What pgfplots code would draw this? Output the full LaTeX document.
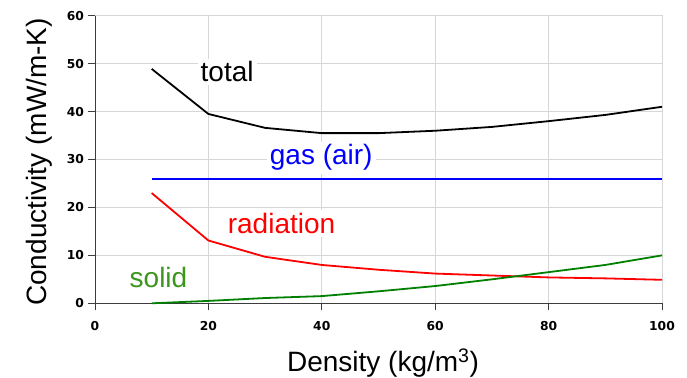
\documentclass[border=0pt]{standalone}
\usepackage{pgfplots}
\pgfplotsset{compat=1.18}
\usepackage{fontspec}
\setmainfont{Liberation Sans}
\newfontfamily\tickfont{DejaVu Sans}
\definecolor{gridgray}{RGB}{215,215,215}
\definecolor{axgray}{RGB}{60,60,60}
\definecolor{solidline}{RGB}{0,128,0}
\definecolor{solidtext}{RGB}{60,150,30}
\definecolor{myblue}{RGB}{0,0,255}
\definecolor{myred}{RGB}{255,0,0}
\begin{document}
\begin{tikzpicture}
\useasboundingbox (-95bp,-74.7bp) rectangle (592bp,303.3bp);
\begin{axis}[
  at={(0,0)}, anchor=south west,
  scale only axis,
  width=567bp, height=287.6bp,
  xmin=0, xmax=100, ymin=0, ymax=60,
  xtick={0,20,...,100}, ytick={0,10,...,60},
  axis lines=left,
  axis line style={-, axgray, line width=0.8bp},
  tick style={axgray, line width=0.8bp},
  tick align=outside,
  major tick length=7bp,
  grid=major,
  major grid style={gridgray, line width=0.9bp},
  ticklabel style={font=\tickfont\bfseries\fontsize{12.3bp}{14bp}\selectfont, text=black},
  xticklabel style={yshift=-7.5bp},
  yticklabel style={xshift=-0.5bp},
  /pgf/number format/assume math mode=true,
  clip=false,
]
\draw[gridgray, line width=0.9bp] (axis cs:0,60) -- (axis cs:100,60) -- (axis cs:100,0);
\addplot[black, line width=1.8bp] coordinates {
 (10,48.9) (20,39.5) (30,36.6) (40,35.5) (50,35.5) (60,36) (70,36.8) (80,38) (90,39.3) (100,41)};
\addplot[myblue, line width=1.9bp] coordinates {(10,26) (100,26)};
\addplot[myred, line width=1.8bp] coordinates {
 (10,23) (20,13.1) (30,9.7) (40,8) (50,7) (60,6.2) (70,5.8) (80,5.4) (90,5.2) (100,4.9)};
\addplot[solidline, line width=1.8bp] coordinates {
 (10,0) (20,0.5) (30,1.1) (40,1.5) (50,2.5) (60,3.6) (70,5) (80,6.5) (90,8) (100,10)};
\node[fill=white, inner sep=3bp, font=\fontsize{28bp}{30bp}\selectfont] at (axis cs:23.3,48.3) {total};
\node[fill=white, inner sep=3bp, text=myblue, font=\fontsize{28bp}{30bp}\selectfont] at (axis cs:39.9,30.4) {gas (air)};
\node[fill=white, inner sep=3bp, text=myred, font=\fontsize{28bp}{30bp}\selectfont] at (axis cs:32.9,16.6) {radiation};
\node[fill=white, inner sep=3bp, text=solidtext, font=\fontsize{28bp}{30bp}\selectfont] at (axis cs:11.2,5.4) {solid};
\node[anchor=base, font=\fontsize{28bp}{30bp}\selectfont] at ([yshift=-68.4bp]axis cs:50.8,0) {Density (kg/m\textsuperscript{3})};
\node[anchor=base, rotate=90, font=\fontsize{28bp}{30bp}\selectfont] at ([xshift=-48bp]axis cs:0,29.5) {Conductivity (mW/m-K)};
\end{axis}
\end{tikzpicture}
\end{document}
